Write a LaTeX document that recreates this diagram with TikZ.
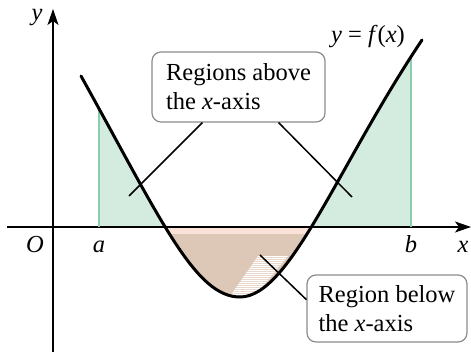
\documentclass[tikz,border=0pt]{standalone}
\usepackage{fontspec}
\setmainfont{Liberation Serif}
\usetikzlibrary{arrows.meta,calc}
\definecolor{greenfill}{RGB}{212,236,224}
\definecolor{greenedge}{RGB}{140,205,175}
\definecolor{brownfill}{RGB}{221,199,183}
\definecolor{pinkfill}{RGB}{251,226,216}
\definecolor{hatchfill}{RGB}{232,216,205}
\definecolor{boxgray}{RGB}{140,140,140}
\tikzset{
  lbl/.style={font=\fontsize{24.5}{28}\selectfont, inner sep=0pt},
  callbox/.style={draw=boxgray, line width=1.2pt, rounded corners=9pt, fill=white,
    font=\fontsize{24.5}{29}\selectfont, align=left, inner sep=0pt},
  axis/.style={line width=1.3pt, -{Stealth[length=16pt,width=11pt,inset=4pt]}},
  curve/.style={line width=3pt, line cap=round},
  leader/.style={line width=1.5pt},
  edge/.style={greenedge, line width=1.5pt}
}
\begin{document}
\begin{tikzpicture}[x=1pt,y=-1pt]
\useasboundingbox (0,0) rectangle (471,352);
% filled regions
\begin{scope}
  \clip (81,76) .. controls (161,220) and (195,297) .. (240,297)
        .. controls (290,297) and (337,167) .. (422,40) -- (422,227) -- (81,227) -- cycle;
  \fill[greenfill] (99,0) rectangle (411,227);
  \fill[brownfill] (0,227) rectangle (471,352);
  \fill[pinkfill] (0,227) rectangle (471,234);
  \begin{scope}
    \clip (258,256) -- (226,302) -- (250,302) -- (288,256) -- cycle;
    \fill[hatchfill] (220,250) rectangle (300,305);
    \foreach \yy in {256,258,...,304} {
      \draw[white, line width=0.5pt] (220,\yy) -- (300,\yy);
    }
  \end{scope}
\end{scope}
% axes
\coordinate (xs) at (7,227);
\coordinate (xe) at (471,227);
\coordinate (ys) at (53,352);
\coordinate (ye) at (53,9);
\draw[axis] (xs) -- (xe);
\draw[axis] (ys) -- (ye);
% edge lines at a and b
\coordinate (a0) at (99,227);
\coordinate (a1) at (99,108);
\coordinate (b0) at (411,227);
\coordinate (b1) at (411,57);
\draw[edge] (a0) -- (a1);
\draw[edge] (b0) -- (b1);
% curve
\draw[curve] (81,76) .. controls (161,220) and (195,297) .. (240,297)
        .. controls (290,297) and (337,167) .. (422,40);
% labels
\node[lbl, anchor=base] (ylab) at (37,21) {\textit{y}};
\node[lbl, anchor=base] (xlab) at (463,253) {\textit{x}};
\node[lbl, anchor=base] (olab) at (35,253) {\textit{O}};
\node[lbl, anchor=base] (alab) at (99,253) {\textit{a}};
\node[lbl, anchor=base] (blab) at (411,253) {\textit{b}};
\node[lbl, anchor=base] (flab) at (368,43) {\textit{y} = \textit{f}(\textit{x})};
% callout boxes
\node[callbox, minimum width=173pt, minimum height=70pt] (box1) at (238.5,87) {Regions above\\the \textit{x}-axis};
\node[callbox, minimum width=160pt, minimum height=67pt] (box2) at (387,308.5) {Region below\\the \textit{x}-axis};
% leader lines
\coordinate (p1) at (129,196);
\coordinate (p2) at (352,197);
\coordinate (p3) at (260,255);
\draw[leader] ($(box1.south west)+(51,0)$) -- (p1);
\draw[leader] ($(box1.south east)+(-47,0)$) -- (p2);
\draw[leader] ($(box2.north west)!0.37!(box2.south west)$) -- (p3);
\end{tikzpicture}
\end{document}
